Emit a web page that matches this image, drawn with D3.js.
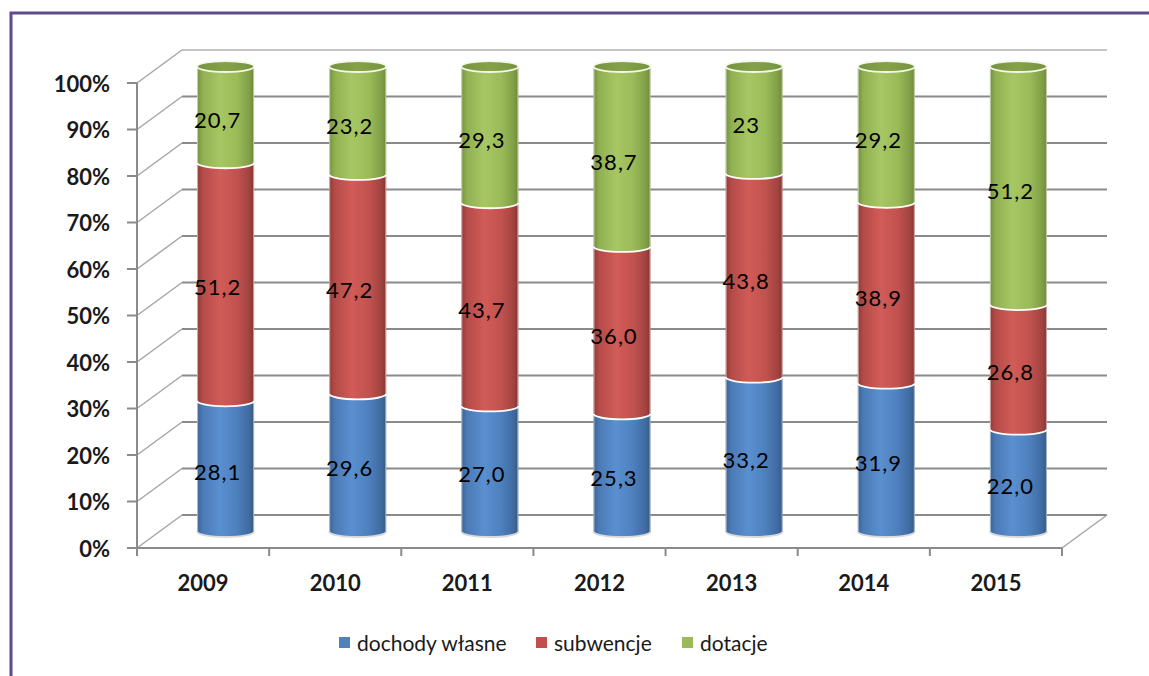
<!DOCTYPE html>
<html>
<head>
<meta charset="utf-8">
<script src="https://cdn.jsdelivr.net/npm/d3@7"></script>
<style>
  html, body { margin: 0; padding: 0; background: #fff; }
  svg { display: block; font-family: Lato, "Open Sans", sans-serif; }
</style>
</head>
<body>
<svg id="chart" width="1149" height="676"></svg>
<script>
// Structure of budget revenue (%), 2009–2015
const years = ["2009", "2010", "2011", "2012", "2013", "2014", "2015"];
const seriesNames = ["dochody własne", "subwencje", "dotacje"];
const dochodyWlasne = ["28,1", "29,6", "27,0", "25,3", "33,2", "31,9", "22,0"];
const subwencje     = ["51,2", "47,2", "43,7", "36,0", "43,8", "38,9", "26,8"];
const dotacje       = ["20,7", "23,2", "29,3", "38,7", "23",   "29,2", "51,2"];
const yTicks = [0, 10, 20, 30, 40, 50, 60, 70, 80, 90, 100];
const seriesColors = ["#4f81bd", "#c0504d", "#9bbb59"];

const num = s => +s.replace(",", ".");
const seriesLabels = [dochodyWlasne, subwencje, dotacje];
const rows = years.map((y, i) => {
  const r = { year: y };
  seriesNames.forEach((k, j) => { r[k] = num(seriesLabels[j][i]); });
  return r;
});
const stacked = d3.stack().keys(seriesNames)(rows);

const svg = d3.select("#chart");
const W = 1149, H = 676;

// frame
svg.append("rect").attr("x", 11).attr("y", 13).attr("width", W + 20).attr("height", H + 20)
  .attr("fill", "none").attr("stroke", "#5e4b87").attr("stroke-width", 3);

// 3D box geometry: front plane + depth offset
const x0 = 137, x1 = 1062;
const depthX = 45, depthY = -33;
const x = d3.scaleBand().domain(years).range([x0, x1]).paddingInner(0).paddingOuter(0);
const yFront = d3.scaleLinear().domain([0, 100]).range([548, 83]);
const yMid = v => yFront(v) + depthY / 2;

const defs = svg.append("defs");
function sideGradient(id, stops) {
  const g = defs.append("linearGradient").attr("id", id)
    .attr("x1", "0%").attr("x2", "100%").attr("y1", "0%").attr("y2", "0%");
  stops.forEach(([o, c]) => g.append("stop").attr("offset", o).attr("stop-color", c));
}
sideGradient("g0", [["0%", "#3b6296"], ["10%", "#4b7bb6"], ["40%", "#5a8fd0"], ["70%", "#4d80bd"], ["92%", "#3f6aa0"], ["100%", "#35587f"]]);
sideGradient("g1", [["0%", "#923a37"], ["10%", "#b44b48"], ["40%", "#d15b57"], ["70%", "#c2524f"], ["92%", "#a04340"], ["100%", "#833331"]]);
sideGradient("g2", [["0%", "#73903d"], ["10%", "#91b051"], ["40%", "#a7c765"], ["70%", "#9bbb59"], ["92%", "#809e46"], ["100%", "#6c8736"]]);
sideGradient("gTop", [["0%", "#76933f"], ["50%", "#84a249"], ["100%", "#76933f"]]);

// walls and gridlines
const grid = svg.append("g");
yTicks.forEach(t => {
  const yf = yFront(t), yb = yf + depthY;
  grid.append("line").attr("x1", x0).attr("y1", yf).attr("x2", x0 + depthX).attr("y2", yb)
    .attr("stroke", "#a6a6a6").attr("stroke-width", 1.5);
  grid.append("line").attr("x1", x0 + depthX).attr("y1", yb).attr("x2", x1 + depthX).attr("y2", yb)
    .attr("stroke", t === 100 ? "#b0b0b0" : "#8a8a8a").attr("stroke-width", t === 100 ? 1.5 : 2.2);
});
// left wall front edge and y ticks
grid.append("line").attr("x1", x0).attr("y1", yFront(0)).attr("x2", x0).attr("y2", yFront(100))
  .attr("stroke", "#8a8a8a").attr("stroke-width", 2);
yTicks.forEach(t => {
  grid.append("line").attr("x1", x0 - 10).attr("y1", yFront(t)).attr("x2", x0).attr("y2", yFront(t))
    .attr("stroke", "#8a8a8a").attr("stroke-width", 2);
});
// floor front edge, right edge and category ticks
grid.append("line").attr("x1", x0).attr("y1", yFront(0)).attr("x2", x1).attr("y2", yFront(0))
  .attr("stroke", "#8a8a8a").attr("stroke-width", 2);
grid.append("line").attr("x1", x1).attr("y1", yFront(0)).attr("x2", x1 + depthX).attr("y2", yFront(0) + depthY)
  .attr("stroke", "#a6a6a6").attr("stroke-width", 1.5);
years.concat([null]).forEach(yr => {
  const xx = yr ? x(yr) : x1;
  grid.append("line").attr("x1", xx).attr("y1", yFront(0)).attr("x2", xx).attr("y2", yFront(0) + 8)
    .attr("stroke", "#8a8a8a").attr("stroke-width", 2);
});

// y axis labels
svg.append("g").selectAll("text").data(yTicks).join("text")
  .attr("x", 110).attr("y", d => yFront(d))
  .attr("text-anchor", "end").attr("dominant-baseline", "central")
  .attr("font-size", 22).attr("font-weight", "bold").attr("fill", "#1a1a1a")
  .text(d => d + "%");

// category labels
svg.append("g").selectAll("text").data(years).join("text")
  .attr("x", d => x(d) + x.bandwidth() / 2).attr("y", 582)
  .attr("text-anchor", "middle").attr("dominant-baseline", "central")
  .attr("font-size", 22).attr("font-weight", "bold").attr("fill", "#1a1a1a")
  .text(d => d);

// cylinders
const rx = 28.5, ry = 5.5;
const cxOf = yr => x(yr) + x.bandwidth() / 2 + depthX / 2;
const cyl = svg.append("g");
years.forEach((yr, i) => {
  const cx = cxOf(yr);
  const g = cyl.append("g");
  stacked.forEach((s, j) => {
    const yb = yMid(s[i][0]), yt = yMid(s[i][1]);
    g.append("path")
      .attr("d", `M${cx - rx},${yt} L${cx - rx},${yb} A${rx},${ry} 0 0 0 ${cx + rx},${yb} L${cx + rx},${yt} A${rx},${ry} 0 0 0 ${cx - rx},${yt} Z`)
      .attr("fill", `url(#g${j})`);
  });
  // rims
  const yBottom = yMid(0), yTop = yMid(100);
  g.append("line").attr("x1", cx - rx + 0.5).attr("y1", yTop).attr("x2", cx - rx + 0.5).attr("y2", yBottom)
    .attr("stroke", "rgba(255,255,255,0.55)").attr("stroke-width", 1);
  g.append("line").attr("x1", cx + rx - 0.5).attr("y1", yTop).attr("x2", cx + rx - 0.5).attr("y2", yBottom)
    .attr("stroke", "rgba(255,255,255,0.55)").attr("stroke-width", 1);
  g.append("path")
    .attr("d", `M${cx - rx},${yBottom} A${rx},${ry} 0 0 0 ${cx + rx},${yBottom}`)
    .attr("fill", "none").attr("stroke", "#d9d9d9").attr("stroke-width", 2);
  // boundaries between segments
  stacked.slice(0, -1).forEach(s => {
    const yy = yMid(s[i][1]);
    g.append("path")
      .attr("d", `M${cx - rx},${yy} A${rx},${ry} 0 0 0 ${cx + rx},${yy}`)
      .attr("fill", "none").attr("stroke", "#ffffff").attr("stroke-width", 1.8);
  });
  // top cap
  g.append("ellipse").attr("cx", cx).attr("cy", yTop).attr("rx", rx).attr("ry", ry)
    .attr("fill", "url(#gTop)").attr("stroke", "#f4f8ec").attr("stroke-width", 1.8);
});

// value labels
const lab = svg.append("g");
stacked.forEach((s, j) => {
  years.forEach((yr, i) => {
    const mid = (s[i][0] + s[i][1]) / 2;
    lab.append("text")
      .attr("x", cxOf(yr) - 8).attr("y", yMid(mid) + 5)
      .attr("text-anchor", "middle").attr("dominant-baseline", "central")
      .attr("font-size", 22).attr("letter-spacing", 1).attr("fill", "#000")
      .text(seriesLabels[j][i]);
  });
});

// legend
const legendX = [339, 536, 682];
const lg = svg.append("g");
seriesNames.forEach((n, j) => {
  lg.append("rect").attr("x", legendX[j]).attr("y", 637).attr("width", 11).attr("height", 11)
    .attr("fill", seriesColors[j]);
  lg.append("text").attr("x", legendX[j] + 18).attr("y", 642)
    .attr("dominant-baseline", "central").attr("font-size", 21).attr("fill", "#1a1a1a")
    .text(n);
});
</script>
</body>
</html>
